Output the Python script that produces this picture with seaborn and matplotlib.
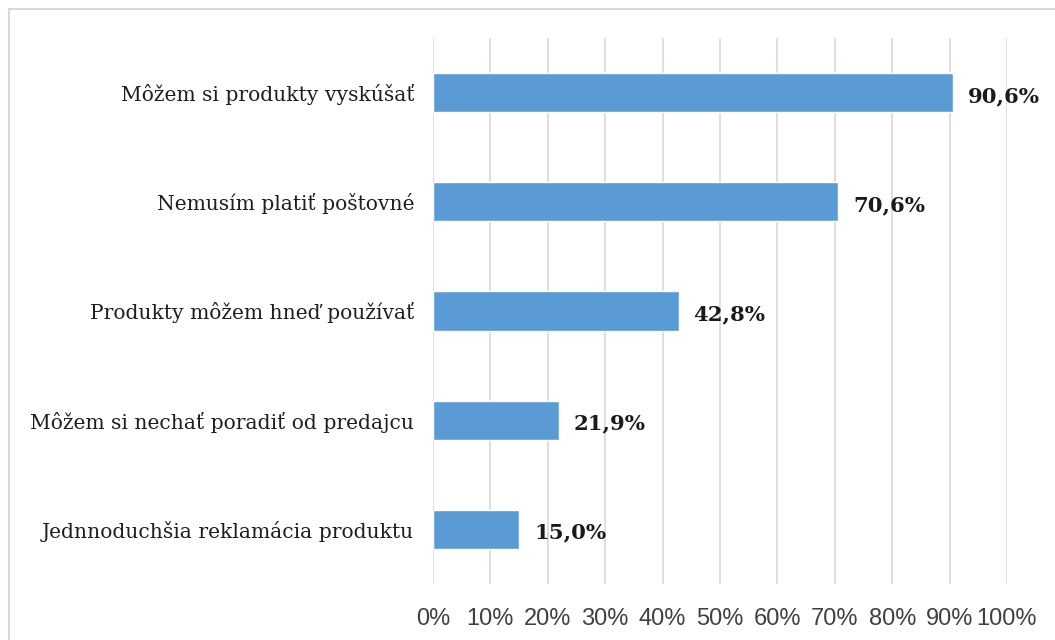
import matplotlib
matplotlib.use("Agg")
import matplotlib.pyplot as plt
import seaborn as sns
import pandas as pd
from matplotlib.patches import Rectangle
from matplotlib.ticker import FuncFormatter

categories = [
    "Môžem si produkty vyskúšať",
    "Nemusím platiť poštovné",
    "Produkty môžem hneď používať",
    "Môžem si nechať poradiť od predajcu",
    "Jednnoduchšia reklamácia produktu",
]
values = [90.6, 70.6, 42.8, 21.9, 15.0]
xticks = list(range(0, 101, 10))

df = pd.DataFrame({"cat": categories, "val": values})

sns.set_theme(style="white")
SERIF = ["DejaVu Serif", "Liberation Serif"]
plt.rcParams["font.family"] = SERIF

fig = plt.figure(figsize=(10.55, 6.4), dpi=100)
W, H = 1055, 640
ax = fig.add_axes([433 / W, 1 - 584 / H, (1007 - 433) / W, (584 - 38) / H])

sns.barplot(data=df, x="val", y="cat", orient="h", color="#5B9BD5",
            saturation=1, width=0.36, ax=ax, zorder=3)

ax.set_xlim(0, 100)
ax.set_ylim(4.5, -0.5)
ax.set_xticks(xticks)
ax.xaxis.set_major_formatter(FuncFormatter(lambda v, p: f"{int(v)}%"))
ax.grid(axis="x", color="#D9D9D9", linewidth=1.2, zorder=0)
ax.grid(axis="y", visible=False)
for s in ax.spines.values():
    s.set_visible(False)
ax.set_xlabel("")
ax.set_ylabel("")
ax.tick_params(axis="both", length=0)
ax.tick_params(axis="x", pad=17)
ax.tick_params(axis="y", pad=13.5)
for lab in ax.get_yticklabels():
    lab.set_fontfamily(SERIF)
    lab.set_fontsize(14.6)
    lab.set_color("#1f1f1f")
for lab in ax.get_xticklabels():
    lab.set_fontfamily(["Liberation Sans", "DejaVu Sans"])
    lab.set_fontsize(17)
    lab.set_color("#404040")

for i, v in enumerate(values):
    ax.text(v + 2.6, i + 0.03, f"{v:.1f}%".replace(".", ","), va="center", ha="left",
            fontsize=15.3, fontweight="bold", color="#1a1a1a", family=SERIF)

border = Rectangle((9 / W, -0.05), 1.2, 1 - 9 / H + 0.05, transform=fig.transFigure,
                   fill=False, edgecolor="#D9D9D9", linewidth=1.5)
fig.patches.append(border)

fig.savefig("out.png", dpi=100)
